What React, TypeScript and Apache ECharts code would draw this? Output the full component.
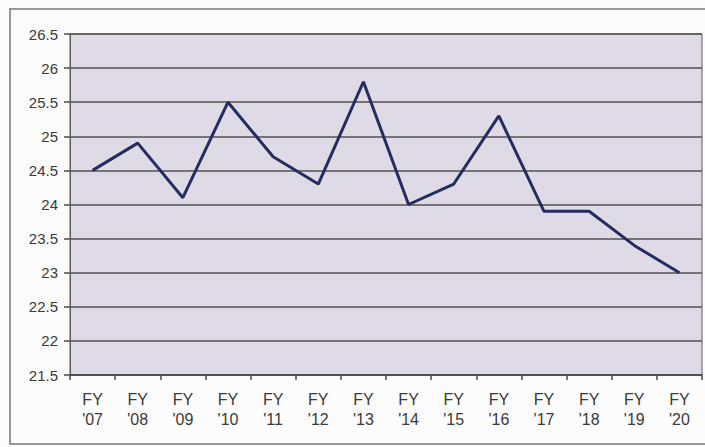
import React, { useEffect, useRef } from "react";
import * as echarts from "echarts";

const categories = ["FY\n'07", "FY\n'08", "FY\n'09", "FY\n'10", "FY\n'11", "FY\n'12", "FY\n'13", "FY\n'14", "FY\n'15", "FY\n'16", "FY\n'17", "FY\n'18", "FY\n'19", "FY\n'20"];
const values = [24.5, 24.9, 24.1, 25.5, 24.7, 24.3, 25.8, 24.0, 24.3, 25.3, 23.9, 23.9, 23.4, 23.0];
const yMin = 21.5;
const yMax = 26.5;
const yStep = 0.5;

export default function App() {
  const ref = useRef<HTMLDivElement>(null);
  useEffect(() => {
    if (!ref.current) return;
    const chart = echarts.init(ref.current, null, { renderer: "svg" });
    chart.setOption({
      animation: false,
      backgroundColor: "#fcfcfc",
      graphic: [
        {
          type: "rect",
          shape: { x: 10, y: 9, width: 705, height: 435 },
          style: { fill: "none", stroke: "#777777", lineWidth: 1.5 },
          z: 0,
        },
      ],
      grid: {
        left: 70,
        right: 3,
        top: 34,
        bottom: 72,
        show: true,
        backgroundColor: "#dfdbe6",
        borderColor: "#5a5a5a",
        borderWidth: 1,
      },
      xAxis: {
        type: "category",
        data: categories,
        boundaryGap: true,
        axisLine: { show: true, lineStyle: { color: "#4a4a4a", width: 1.5 } },
        axisTick: { show: true, length: 5, lineStyle: { color: "#4a4a4a", width: 1.5 } },
        axisLabel: {
          color: "#3a3a3a",
          fontSize: 16,
          fontFamily: "Liberation Sans, Arial, sans-serif",
          lineHeight: 20,
          margin: 14,
          interval: 0,
        },
        splitLine: { show: false },
      },
      yAxis: {
        type: "value",
        min: yMin,
        max: yMax,
        interval: yStep,
        axisLine: { show: true, lineStyle: { color: "#5a5a5a", width: 1 } },
        axisTick: { show: true, length: 6, lineStyle: { color: "#4a4a4a", width: 1.5 } },
        axisLabel: {
          color: "#3a3a3a",
          fontSize: 15,
          fontFamily: "Liberation Sans, Arial, sans-serif",
          margin: 12,
        },
        splitLine: { show: true, lineStyle: { color: "#505050", width: 1.5 } },
      },
      series: [
        {
          type: "line",
          data: values,
          symbol: "none",
          lineStyle: { color: "#252d60", width: 3 },
          z: 5,
        },
      ],
    });
    return () => chart.dispose();
  }, []);
  return <div ref={ref} style={{ width: 705, height: 447, position: "absolute", left: 0, top: 0 }} />;
}
